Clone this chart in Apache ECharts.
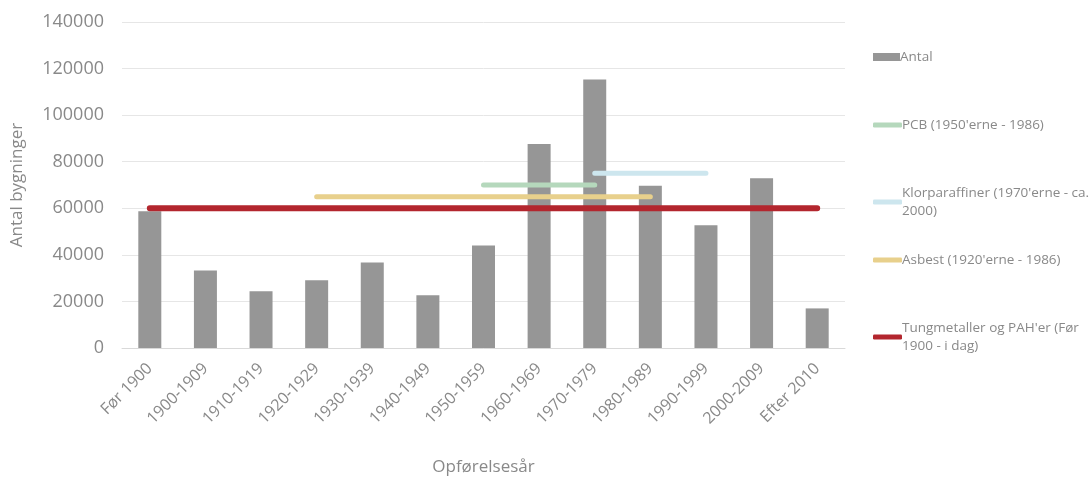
<!DOCTYPE html>
<html><head><meta charset="utf-8">
<script src="https://cdn.jsdelivr.net/npm/echarts@6/dist/echarts.min.js"></script>
<style>html,body{margin:0;padding:0;background:#fff}#c{width:1092px;height:479px}</style>
</head><body><div id="c"></div>
<script>
var categories = ['Før 1900','1900-1909','1910-1919','1920-1929','1930-1939','1940-1949','1950-1959','1960-1969','1970-1979','1980-1989','1990-1999','2000-2009','Efter 2010'];
var antal = [58700, 33300, 24400, 29100, 36700, 22700, 44000, 87600, 115300, 69700, 52700, 72900, 17000];
var pcb = [null, null, null, null, null, null, 70000, 70000, 70000, null, null, null, null];
var klor = [null, null, null, null, null, null, null, null, 75000, 75000, 75000, null, null];
var asbest = [null, null, null, 65000, 65000, 65000, 65000, 65000, 65000, 65000, null, null, null];
var tung = [60000, 60000, 60000, 60000, 60000, 60000, 60000, 60000, 60000, 60000, 60000, 60000, 60000];
var yTicks = {min: 0, max: 140000, interval: 20000};
var names = ['Antal', "PCB (1950'erne - 1986)", "Klorparaffiner (1970'erne - ca. 2000)", "Asbest (1920'erne - 1986)", "Tungmetaller og PAH'er (Før 1900 - i dag)"];

var font = '"Open Sans", sans-serif';
var txt = '#898989';
function lg(name, top, isBar) {
  return {
    data: [name], orient: 'vertical', left: 873, top: top, padding: 0,
    itemWidth: isBar ? 27 : 29, itemHeight: isBar ? 8 : 5,
    icon: isBar ? 'rect' : 'roundRect',
    selectedMode: false,
    textStyle: {fontFamily: font, fontSize: 13.5, color: txt, width: 196, overflow: 'break', lineHeight: 18, padding: [0,0,0,-5]}
  };
}
function line(name, data, color, w) {
  return {name: name, type: 'line', data: data, symbol: 'none', silent: true,
    lineStyle: {color: color, width: w, cap: 'round'}, itemStyle: {color: color}};
}
var chart = echarts.init(document.getElementById('c'));
chart.setOption({
  animation: false,
  legend: [lg(names[0], 48, true), lg(names[1], 116, false), lg(names[2], 184, false), lg(names[3], 251, false), lg(names[4], 319, false)],
  grid: {left: 122, right: 247, top: 22, bottom: 131, containLabel: false, outerBoundsMode: 'none'},
  xAxis: {
    type: 'category', data: categories,
    axisLine: {lineStyle: {color: '#d9d9d9'}}, axisTick: {show: false},
    axisLabel: {rotate: 45, interval: 0, fontFamily: font, fontSize: 16, color: txt, margin: 18},
    name: 'Opførelsesår', nameLocation: 'middle', nameGap: 111,
    nameTextStyle: {fontFamily: font, fontSize: 17, color: txt}
  },
  yAxis: {
    type: 'value', min: yTicks.min, max: yTicks.max, interval: yTicks.interval,
    splitLine: {lineStyle: {color: '#e6e6e6'}},
    axisLine: {show: false}, axisTick: {show: false},
    axisLabel: {fontFamily: font, fontSize: 18, color: txt, margin: 18, formatter: function (v) { return String(v); }},
    name: 'Antal bygninger', nameLocation: 'middle', nameGap: 96,
    nameTextStyle: {fontFamily: font, fontSize: 17, color: txt}
  },
  series: [
    {name: names[0], type: 'bar', data: antal, barWidth: 23, itemStyle: {color: '#969696'}},
    line(names[3], asbest, '#e8d08c', 5),
    line(names[1], pcb, '#b5d8bc', 5),
    line(names[2], klor, '#cde6ee', 5),
    line(names[4], tung, '#b3262e', 6)
  ]
});
</script></body></html>
